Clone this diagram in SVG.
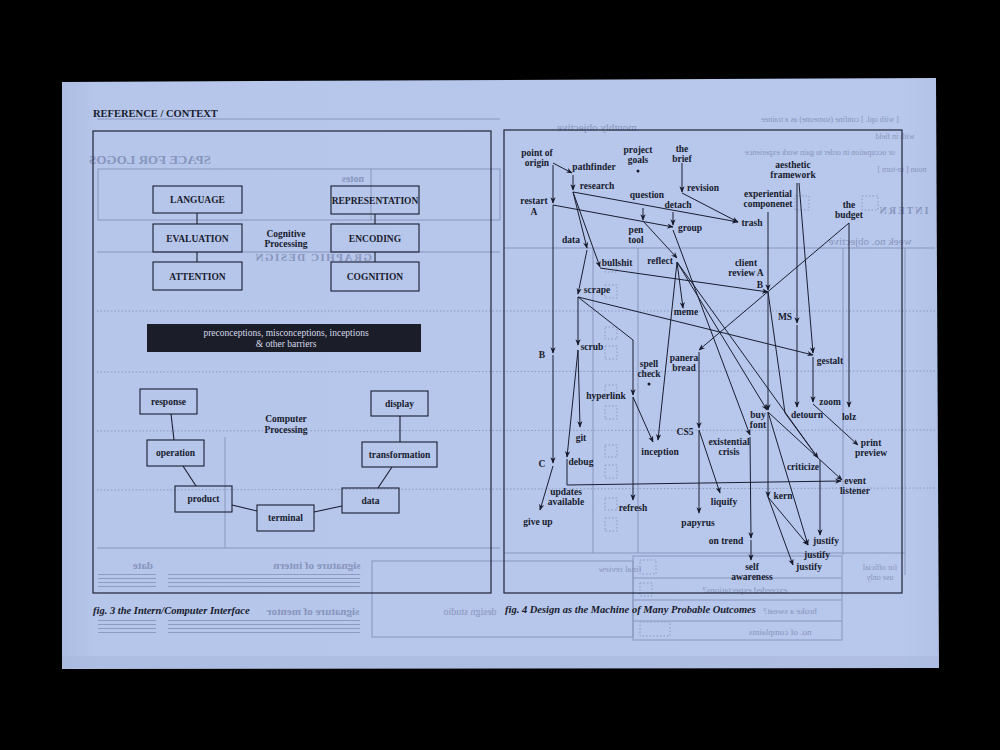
<svg xmlns="http://www.w3.org/2000/svg" width="1000" height="750" viewBox="0 0 1000 750">
<defs>
<linearGradient id="paper" x1="0" y1="0" x2="1" y2="0">
<stop offset="0" stop-color="#aebde2"/>
<stop offset="0.04" stop-color="#b6c5ea"/>
<stop offset="0.96" stop-color="#b8c7ec"/>
<stop offset="1" stop-color="#b2c1e6"/>
</linearGradient>
<marker id="ah" viewBox="0 0 10 10" refX="9" refY="5" markerWidth="6.5" markerHeight="6.5" markerUnits="userSpaceOnUse" orient="auto">
<path d="M0,1 L10,5 L0,9 L3,5 z" fill="#161a2b"/>
</marker>
<style>
.lbl{font-family:"Liberation Serif","DejaVu Serif",serif;font-weight:bold;font-size:9.5px;fill:#171b2c;text-anchor:middle}
.cap{font-family:"Liberation Serif","DejaVu Serif",serif;font-weight:bold;font-style:italic;font-size:10.5px;fill:#171b2c}
.box{fill:none;stroke:#1a1e30;stroke-width:1.1}
.frame{fill:none;stroke:#1e2235;stroke-width:1.2}
.ln{fill:none;stroke:#1a1e30;stroke-width:1.1}
.ed{fill:none;stroke:#1a1e30;stroke-width:1;marker-end:url(#ah)}
.edn{fill:none;stroke:#1a1e30;stroke-width:1}
.gh{fill:none;stroke:#7e8cb4;stroke-width:1}
.ghd{fill:none;stroke:#8190b7;stroke-width:1;stroke-dasharray:1.5 2}
.ght{font-family:"Liberation Serif","DejaVu Serif",serif;fill:#7c8ab2;text-anchor:middle}
</style>
</defs>

<rect x="0" y="0" width="1000" height="750" fill="#000"/>
<polygon points="62,82 936,78 939,668 62,669" fill="url(#paper)"/>
<rect x="62" y="656" width="877" height="12" fill="#a9b7dc" opacity="0.6"/>

<!-- show-through (back of sheet) -->
<g id="showthrough" opacity="0.8">
<line class="gh" x1="97" y1="119" x2="500" y2="119"/>
<rect class="gh" x="98" y="169" width="402" height="51"/>
<line class="gh" x1="371" y1="169" x2="371" y2="220"/>
<line class="gh" x1="97" y1="252" x2="500" y2="252"/>
<line class="gh" x1="97" y1="548" x2="500" y2="548"/>
<line class="gh" x1="225" y1="437" x2="225" y2="548"/>
<line class="ghd" x1="97" y1="311" x2="935" y2="311"/>
<line class="ghd" x1="97" y1="372" x2="935" y2="371"/>
<line class="ghd" x1="97" y1="431" x2="935" y2="430"/>
<line class="ghd" x1="97" y1="490" x2="935" y2="488"/>
<line class="gh" x1="504" y1="248" x2="935" y2="248"/>
<line class="gh" x1="593" y1="248" x2="593" y2="553"/>
<line class="gh" x1="638" y1="248" x2="638" y2="553"/>
<line class="gh" x1="843" y1="248" x2="843" y2="555"/>
<line class="gh" x1="905" y1="248" x2="905" y2="575"/>
<line class="gh" x1="504" y1="553" x2="905" y2="553"/>
<rect class="gh" x="633" y="556" width="209" height="84"/>
<line class="gh" x1="633" y1="578" x2="842" y2="578"/>
<line class="gh" x1="633" y1="600" x2="842" y2="600"/>
<line class="gh" x1="633" y1="621" x2="842" y2="621"/>
<rect class="gh" x="372" y="561" width="261" height="76"/>
<g class="ghd">
<rect x="605" y="260" width="12" height="12"/><rect x="605" y="285" width="12" height="13"/>
<rect x="605" y="327" width="12" height="12"/><rect x="605" y="346" width="12" height="13"/>
<rect x="605" y="385" width="12" height="12"/><rect x="605" y="406" width="12" height="13"/>
<rect x="605" y="445" width="12" height="12"/><rect x="605" y="465" width="12" height="13"/>
<rect x="605" y="498" width="12" height="12"/><rect x="605" y="518" width="12" height="13"/>
<rect x="640" y="560" width="16" height="14"/><rect x="640" y="583" width="12" height="13"/>
<rect x="640" y="622" width="30" height="14"/>
<rect x="795" y="196" width="14" height="14"/><rect x="862" y="196" width="16" height="14"/>
</g>
<g fill="#8391b9">
<rect x="98" y="574" width="58" height="1"/><rect x="98" y="578" width="58" height="1"/><rect x="98" y="582" width="58" height="1"/><rect x="98" y="586" width="58" height="1"/>
<rect x="168" y="574" width="192" height="1"/><rect x="168" y="578" width="192" height="1"/><rect x="168" y="582" width="192" height="1"/><rect x="168" y="586" width="192" height="1"/>
<rect x="98" y="620" width="58" height="1"/><rect x="98" y="624" width="58" height="1"/><rect x="98" y="628" width="58" height="1"/><rect x="98" y="632" width="58" height="1"/>
<rect x="168" y="620" width="192" height="1"/><rect x="168" y="624" width="192" height="1"/><rect x="168" y="628" width="192" height="1"/><rect x="168" y="632" width="192" height="1"/>
</g>
<text class="ght" transform="translate(150,164) scale(-1,1)" font-size="13" font-weight="bold">SPACE FOR LOGOS</text>
<text class="ght" transform="translate(353,182) scale(-1,1)" font-size="10" font-weight="bold">notes</text>
<text class="ght" transform="translate(313,261) scale(-1,1)" font-size="11" font-weight="bold" letter-spacing="1.5">GRAPHIC DESIGN</text>
<text class="ght" transform="translate(317,569) scale(-1,1)" font-size="11" font-weight="bold">signature of intern</text>
<text class="ght" transform="translate(143,569) scale(-1,1)" font-size="11" font-weight="bold">date</text>
<text class="ght" transform="translate(313,615) scale(-1,1)" font-size="11" font-weight="bold">signature of mentor</text>
<text class="ght" transform="translate(470,615) scale(-1,1)" font-size="10">design studio</text>
<text class="ght" transform="translate(597,131) scale(-1,1)" font-size="11">monthly objective</text>
<text class="ght" transform="translate(620,572) scale(-1,1)" font-size="9">final review</text>
<text class="ght" transform="translate(745,593) scale(-1,1)" font-size="9">exceeded expectations?</text>
<text class="ght" transform="translate(790,614) scale(-1,1)" font-size="9">broke a sweat?</text>
<text class="ght" transform="translate(780,635) scale(-1,1)" font-size="9">no. of complaints</text>
<text class="ght" transform="translate(880,570) scale(-1,1)" font-size="8">for official</text>
<text class="ght" transform="translate(880,580) scale(-1,1)" font-size="8">use only</text>
<text class="ght" transform="translate(830,122) scale(-1,1)" font-size="8">[ with opl. ] confine (someone) as a trainee</text>
<text class="ght" transform="translate(895,139) scale(-1,1)" font-size="8">with in field</text>
<text class="ght" transform="translate(820,155) scale(-1,1)" font-size="8">or occupation in order to gain work experience</text>
<text class="ght" transform="translate(902,172) scale(-1,1)" font-size="8">noun [ in-turn ]</text>
<text class="ght" transform="translate(903,214) scale(-1,1)" font-size="10" font-weight="bold" letter-spacing="2">INTERN</text>
<text class="ght" transform="translate(870,245) scale(-1,1)" font-size="11">week no.    objective</text>
</g>

<!-- Left figure -->
<text x="93" y="117" font-family="Liberation Serif, DejaVu Serif, serif" font-weight="bold" font-size="10.5" fill="#171b2c">REFERENCE / CONTEXT</text>
<rect class="frame" x="93" y="131" width="398" height="462"/>

<g id="connectors-left">
<line class="ln" x1="197" y1="213" x2="197" y2="224"/>
<line class="ln" x1="197" y1="252" x2="197" y2="262"/>
<line class="ln" x1="375" y1="214" x2="375" y2="224"/>
<line class="ln" x1="375" y1="252" x2="375" y2="262"/>
<line class="ln" x1="171" y1="414" x2="174" y2="440"/>
<line class="ln" x1="183" y1="466" x2="196" y2="486"/>
<line class="ln" x1="232" y1="505" x2="257" y2="511"/>
<line class="ln" x1="314" y1="512" x2="342" y2="506"/>
<line class="ln" x1="378" y1="488" x2="392" y2="467"/>
<line class="ln" x1="400" y1="442" x2="400" y2="416"/>
</g>

<g id="n-language"><rect class="box" x="153" y="186" width="89" height="27"/><text class="lbl" x="197.5" y="203" font-size="9">LANGUAGE</text></g>
<g id="n-evaluation"><rect class="box" x="153" y="224" width="89" height="28"/><text class="lbl" x="197.5" y="241.5" font-size="9">EVALUATION</text></g>
<g id="n-attention"><rect class="box" x="153" y="262" width="89" height="28"/><text class="lbl" x="197.5" y="279.5" font-size="9">ATTENTION</text></g>
<g id="n-representation"><rect class="box" x="331" y="186" width="88" height="28"/><text class="lbl" x="375" y="203.5" font-size="8.8">REPRESENTATION</text></g>
<g id="n-encoding"><rect class="box" x="331" y="224" width="88" height="28"/><text class="lbl" x="375" y="241.5" font-size="9">ENCODING</text></g>
<g id="n-cognition"><rect class="box" x="331" y="262" width="88" height="29"/><text class="lbl" x="375" y="280" font-size="9">COGNITION</text></g>
<g id="t-cognitive"><text class="lbl" x="286" y="236.5"><tspan x="286">Cognitive</tspan><tspan x="286" dy="10.5">Processing</tspan></text></g>
<g id="n-barriers"><rect x="147" y="324" width="274" height="28" fill="#1b1d28"/><text x="286" y="336" text-anchor="middle" font-family="Liberation Serif, DejaVu Serif, serif" font-size="9.5" fill="#d6dbeb"><tspan x="286">preconceptions, misconceptions, inceptions</tspan><tspan x="286" dy="11">&amp; other barriers</tspan></text></g>
<g id="t-computer"><text class="lbl" x="286" y="422"><tspan x="286">Computer</tspan><tspan x="286" dy="11">Processing</tspan></text></g>
<g id="n-response"><rect class="box" x="140" y="389" width="57" height="25"/><text class="lbl" x="168.5" y="405">response</text></g>
<g id="n-operation"><rect class="box" x="147" y="440" width="57" height="26"/><text class="lbl" x="175.5" y="456">operation</text></g>
<g id="n-product"><rect class="box" x="175" y="486" width="57" height="26"/><text class="lbl" x="203.5" y="502">product</text></g>
<g id="n-terminal"><rect class="box" x="257" y="505" width="57" height="26"/><text class="lbl" x="285.5" y="521">terminal</text></g>
<g id="n-data"><rect class="box" x="342" y="488" width="57" height="25"/><text class="lbl" x="370.5" y="504">data</text></g>
<g id="n-transformation"><rect class="box" x="362" y="442" width="75" height="25"/><text class="lbl" x="399.5" y="458">transformation</text></g>
<g id="n-display"><rect class="box" x="371" y="391" width="57" height="25"/><text class="lbl" x="399.5" y="407">display</text></g>
<text class="cap" x="93" y="614">fig. 3  the Intern/Computer Interface</text>

<!-- Right figure -->
<rect class="frame" x="504" y="130" width="398" height="463"/>

<g id="connectors-right">
<path class="ed" d="M553,163 L572,173"/>
<path class="ed" d="M573,175 L573,190"/>
<path class="ed" d="M553,165 L553,203"/>
<path class="ed" d="M553,205 L553,353"/>
<path class="ed" d="M553,355 L553,463"/>
<path class="ed" d="M553,466 L540,510"/>
<path class="ed" d="M573,192 L738,222"/>
<path class="ed" d="M573,192 L587,248"/>
<path class="ed" d="M573,192 L600,267"/>
<path class="ed" d="M587,250 L578,294"/>
<path class="ed" d="M553,205 L673,227"/>
<path class="ed" d="M643,208 L643,220"/>
<path class="ed" d="M643,221 L677,258"/>
<path class="ed" d="M673,212 L673,225"/>
<path class="ed" d="M682,163 L682,192"/>
<path class="ed" d="M682,193 L738,222"/>
<path class="ed" d="M673,230 L750,435"/>
<path class="ed" d="M677,262 L683,308"/>
<path class="ed" d="M677,262 L658,440"/>
<path class="ed" d="M677,262 L767,410"/>
<path class="ed" d="M677,262 L818,458"/>
<path class="ed" d="M600,268 L768,292"/>
<path class="ed" d="M768,212 L768,290"/>
<path class="ed" d="M768,292 L768,410"/>
<path class="ed" d="M768,412 L768,497"/>
<path class="edn" d="M768,292 L785,413 L818,458"/>
<path class="ed" d="M768,497 L808,545"/>
<path class="ed" d="M768,497 L793,565"/>
<path class="ed" d="M768,412 L808,545"/>
<path class="ed" d="M768,412 L842,480"/>
<path class="ed" d="M820,460 L820,535"/>
<path class="ed" d="M567,459 L567,485 L841,481"/>
<path class="ed" d="M578,350 L567,457"/>
<path class="ed" d="M578,350 L580,427"/>
<path class="ed" d="M578,297 L578,345"/>
<path class="ed" d="M578,297 L633,340 L633,395"/>
<path class="ed" d="M633,397 L633,500"/>
<path class="ed" d="M633,397 L653,442"/>
<path class="ed" d="M578,297 L813,355"/>
<path class="ed" d="M849,223 L699,350"/>
<path class="ed" d="M849,223 L849,407"/>
<path class="ed" d="M797,183 L797,323"/>
<path class="ed" d="M797,325 L797,407"/>
<path class="ed" d="M799,183 L813,353"/>
<path class="ed" d="M813,357 L813,402"/>
<path class="ed" d="M813,404 L858,445"/>
<path class="ed" d="M699,352 L699,428"/>
<path class="ed" d="M699,430 L699,513"/>
<path class="ed" d="M699,430 L720,493"/>
<path class="ed" d="M750,437 L751,538"/>
<path class="ed" d="M751,540 L751,560"/>
<circle cx="638" cy="171" r="1.5" fill="#171b2c"/>
<circle cx="649" cy="384" r="1.5" fill="#171b2c"/>
</g>

<g id="r-origin"><text class="lbl" x="537" y="156"><tspan x="537">point of</tspan><tspan x="537" dy="9.5">origin</tspan></text></g>
<g id="r-goals"><text class="lbl" x="638" y="153"><tspan x="638">project</tspan><tspan x="638" dy="9.5">goals</tspan></text></g>
<g id="r-brief"><text class="lbl" x="682" y="152"><tspan x="682">the</tspan><tspan x="682" dy="9.5">brief</tspan></text></g>
<g id="r-pathfinder"><text class="lbl" x="594" y="170">pathfinder</text></g>
<g id="r-research"><text class="lbl" x="597" y="189">research</text></g>
<g id="r-revision"><text class="lbl" x="703" y="191">revision</text></g>
<g id="r-aesthetic"><text class="lbl" x="793" y="168"><tspan x="793">aesthetic</tspan><tspan x="793" dy="9.5">framework</tspan></text></g>
<g id="r-experiential"><text class="lbl" x="768" y="197"><tspan x="768">experiential</tspan><tspan x="768" dy="9.5">componenet</tspan></text></g>
<g id="r-budget"><text class="lbl" x="849" y="208"><tspan x="849">the</tspan><tspan x="849" dy="9.5">budget</tspan></text></g>
<g id="r-restart"><text class="lbl" x="534" y="204"><tspan x="534">restart</tspan><tspan x="534" dy="11">A</tspan></text></g>
<g id="r-question"><text class="lbl" x="647" y="198">question</text></g>
<g id="r-detach"><text class="lbl" x="678" y="208">detach</text></g>
<g id="r-trash"><text class="lbl" x="752" y="226">trash</text></g>
<g id="r-group"><text class="lbl" x="690" y="231">group</text></g>
<g id="r-pentool"><text class="lbl" x="636" y="233"><tspan x="636">pen</tspan><tspan x="636" dy="9.5">tool</tspan></text></g>
<g id="r-data"><text class="lbl" x="571" y="243">data</text></g>
<g id="r-bullshit"><text class="lbl" x="617" y="266">bullshit</text></g>
<g id="r-reflect"><text class="lbl" x="660" y="264">reflect</text></g>
<g id="r-client"><text class="lbl" x="746" y="266"><tspan x="746">client</tspan><tspan x="746" dy="9.5">review A</tspan></text></g>
<g id="r-b1"><text class="lbl" x="760" y="288">B</text></g>
<g id="r-scrape"><text class="lbl" x="597" y="293">scrape</text></g>
<g id="r-meme"><text class="lbl" x="686" y="315">meme</text></g>
<g id="r-ms"><text class="lbl" x="785" y="320">MS</text></g>
<g id="r-b2"><text class="lbl" x="542" y="358">B</text></g>
<g id="r-scrub"><text class="lbl" x="592" y="350">scrub</text></g>
<g id="r-panera"><text class="lbl" x="684" y="361"><tspan x="684">panera</tspan><tspan x="684" dy="9.5">bread</tspan></text></g>
<g id="r-spell"><text class="lbl" x="649" y="367"><tspan x="649">spell</tspan><tspan x="649" dy="9.5">check</tspan></text></g>
<g id="r-gestalt"><text class="lbl" x="830" y="364">gestalt</text></g>
<g id="r-hyperlink"><text class="lbl" x="606" y="399">hyperlink</text></g>
<g id="r-zoom"><text class="lbl" x="830" y="405">zoom</text></g>
<g id="r-buyfont"><text class="lbl" x="758" y="418"><tspan x="758">buy</tspan><tspan x="758" dy="9.5">font</tspan></text></g>
<g id="r-detourn"><text class="lbl" x="807" y="418">detourn</text></g>
<g id="r-lolz"><text class="lbl" x="849" y="420">lolz</text></g>
<g id="r-git"><text class="lbl" x="581" y="441">git</text></g>
<g id="r-cs5"><text class="lbl" x="685" y="435">CS5</text></g>
<g id="r-existential"><text class="lbl" x="729" y="445"><tspan x="729">existential</tspan><tspan x="729" dy="9.5">crisis</tspan></text></g>
<g id="r-inception"><text class="lbl" x="660" y="455">inception</text></g>
<g id="r-print"><text class="lbl" x="871" y="446"><tspan x="871">print</tspan><tspan x="871" dy="9.5">preview</tspan></text></g>
<g id="r-criticize"><text class="lbl" x="803" y="470">criticize</text></g>
<g id="r-c"><text class="lbl" x="542" y="467">C</text></g>
<g id="r-debug"><text class="lbl" x="581" y="465">debug</text></g>
<g id="r-event"><text class="lbl" x="855" y="484"><tspan x="855">event</tspan><tspan x="855" dy="9.5">listener</tspan></text></g>
<g id="r-updates"><text class="lbl" x="566" y="495"><tspan x="566">updates</tspan><tspan x="566" dy="9.5">available</tspan></text></g>
<g id="r-kern"><text class="lbl" x="783" y="499">kern</text></g>
<g id="r-refresh"><text class="lbl" x="633" y="511">refresh</text></g>
<g id="r-liquify"><text class="lbl" x="724" y="505">liquify</text></g>
<g id="r-giveup"><text class="lbl" x="538" y="525">give up</text></g>
<g id="r-papyrus"><text class="lbl" x="698" y="526">papyrus</text></g>
<g id="r-ontrend"><text class="lbl" x="726" y="544">on trend</text></g>
<g id="r-justify1"><text class="lbl" x="826" y="544">justify</text></g>
<g id="r-justify2"><text class="lbl" x="817" y="558">justify</text></g>
<g id="r-justify3"><text class="lbl" x="809" y="570">justify</text></g>
<g id="r-self"><text class="lbl" x="752" y="570"><tspan x="752">self</tspan><tspan x="752" dy="9.5">awareness</tspan></text></g>
<text class="cap" x="505" y="613">fig. 4 Design as the Machine of Many Probable Outcomes</text>
</svg>
